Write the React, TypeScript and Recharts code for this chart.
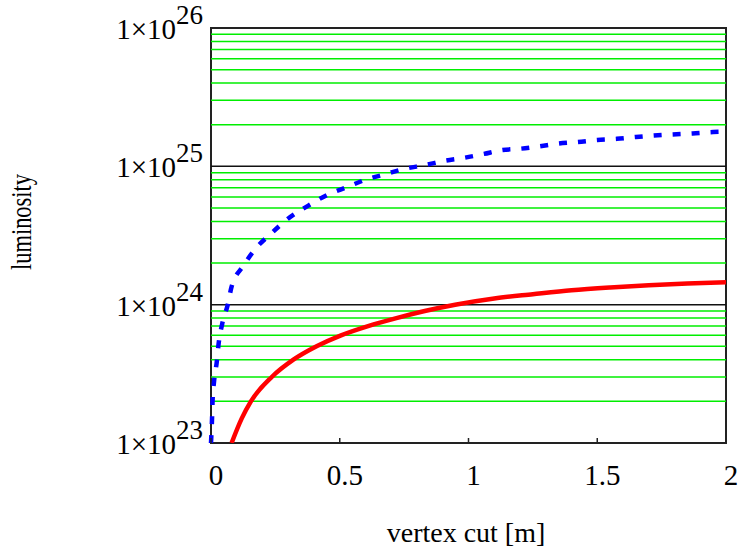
import { LineChart, Line, XAxis, YAxis, ReferenceLine, ReferenceArea, Label } from "recharts";

// vertex cut [m] and luminosity
const blueCut = [
  0, 0.004, 0.006, 0.012, 0.022, 0.03, 0.043, 0.065, 0.08, 0.125, 0.17, 0.236,
  0.3, 0.378, 0.45, 0.53, 0.6, 0.68, 0.753, 0.83, 0.91, 0.98, 1.06, 1.13, 1.2,
  1.27, 1.35, 1.425, 1.5, 1.576, 1.65, 1.72, 1.79, 1.87, 1.95, 2,
];
const blueLum = [
  1.0e23, 1.5e23, 2.0e23, 2.8e23, 3.8e23, 5.3e23, 7.2e23, 1.0e24, 1.35e24,
  1.9e24, 2.5e24, 3.3e24, 4.2e24, 5.2e24, 6.2e24, 7.1e24, 8.0e24, 8.8e24,
  9.6e24, 1.02e25, 1.1e25, 1.15e25, 1.23e25, 1.31e25, 1.34e25, 1.39e25,
  1.46e25, 1.5e25, 1.55e25, 1.58e25, 1.63e25, 1.67e25, 1.7e25, 1.73e25,
  1.77e25, 1.78e25,
];

const redCut = [
  0.08, 0.119, 0.155, 0.236, 0.32, 0.41, 0.505, 0.61, 0.72, 0.83, 0.948,
  1.1, 1.25, 1.4, 1.55, 1.7, 1.85, 2,
];
const redLum = [
  1.0e23, 1.5e23, 2.0e23, 3.0e23, 4.0e23, 5.0e23, 6.0e23, 7.0e23, 8.0e23,
  9.0e23, 1.0e24, 1.11e24, 1.19e24, 1.27e24, 1.33e24, 1.38e24, 1.42e24, 1.45e24,
];

const xTicks = [0, 0.5, 1, 1.5, 2];
const yTicks = [1e23, 1e24, 1e25, 1e26];
const majorLines = [1e24, 1e25];
const minorMantissas = [2, 3, 4, 5, 6, 7, 8, 9];
const minorDecades = [1e23, 1e24, 1e25];

const blueData = blueCut.map((x, i) => ({ x, y: blueLum[i] }));
const redData = redCut.map((x, i) => ({ x, y: redLum[i] }));
const minorLines = minorDecades.flatMap((d) => minorMantissas.map((m) => m * d));

const FONT = '"Liberation Serif", "Times New Roman", serif';

function XTick({ x, y, payload }: any) {
  return (
    <text x={x + 5} y={y + 42} textAnchor="middle" fontFamily={FONT} fontSize={29} fill="#000">
      {String(payload.value)}
    </text>
  );
}

function YTick({ x, y, payload }: any) {
  const exp = Math.round(Math.log10(payload.value));
  return (
    <text x={x - 8} y={y + 11} textAnchor="end" fontFamily={FONT} fontSize={29} fill="#000">
      1×10
      <tspan fontSize={27} dy={-15}>
        {exp}
      </tspan>
    </text>
  );
}

export default function App() {
  return (
    <div style={{ position: "absolute", left: 0, top: 0, width: 740, height: 554 }}>
      <LineChart
        width={740}
        height={554}
        margin={{ top: 28, right: 14, bottom: 51, left: 21 }}
      >
        <XAxis
          type="number"
          dataKey="x"
          domain={[0, 2]}
          ticks={xTicks}
          axisLine={false}
          tickLine={{ stroke: "#222", strokeWidth: 1.5 }}
          tickSize={-5}
          tickMargin={5}
          tick={(p: any) => <XTick {...p} />}
          height={60}
        >
          <Label
            content={() => (
              <text x={466} y={542} textAnchor="middle" fontFamily={FONT} fontSize={28} fill="#000">
                vertex cut [m]
              </text>
            )}
          />
        </XAxis>
        <YAxis
          scale="log"
          domain={[1e23, 1e26]}
          allowDataOverflow
          ticks={yTicks}
          axisLine={false}
          tickLine={false}
          tickSize={0}
          tickMargin={0}
          tick={(p: any) => <YTick {...p} />}
          width={190}
        >
          <Label
            content={() => (
              <text
                x={31}
                y={222}
                transform="rotate(-90, 31, 222)"
                textAnchor="middle"
                fontFamily={FONT}
                fontSize={29}
                textLength={96}
                lengthAdjust="spacingAndGlyphs"
                fill="#000"
              >
                luminosity
              </text>
            )}
          />
        </YAxis>

        {minorLines.map((v) => (
          <ReferenceLine key={`m-${v}`} y={v} stroke="#00ee00" strokeWidth={1.5} />
        ))}
        {majorLines.map((v) => (
          <ReferenceLine key={`M-${v}`} y={v} stroke="#111" strokeWidth={1.5} />
        ))}
        <ReferenceArea x1={0} x2={2} y1={1e23} y2={1e26} fill="none" stroke="#222" strokeWidth={2} />

        <Line
          data={blueData}
          dataKey="y"
          type="monotone"
          stroke="#0000ff"
          strokeWidth={4.5}
          strokeDasharray="8 11"
          dot={false}
          isAnimationActive={false}
        />
        <Line
          data={redData}
          dataKey="y"
          type="monotone"
          stroke="#ff0000"
          strokeWidth={4.5}
          dot={false}
          isAnimationActive={false}
        />
      </LineChart>
    </div>
  );
}
